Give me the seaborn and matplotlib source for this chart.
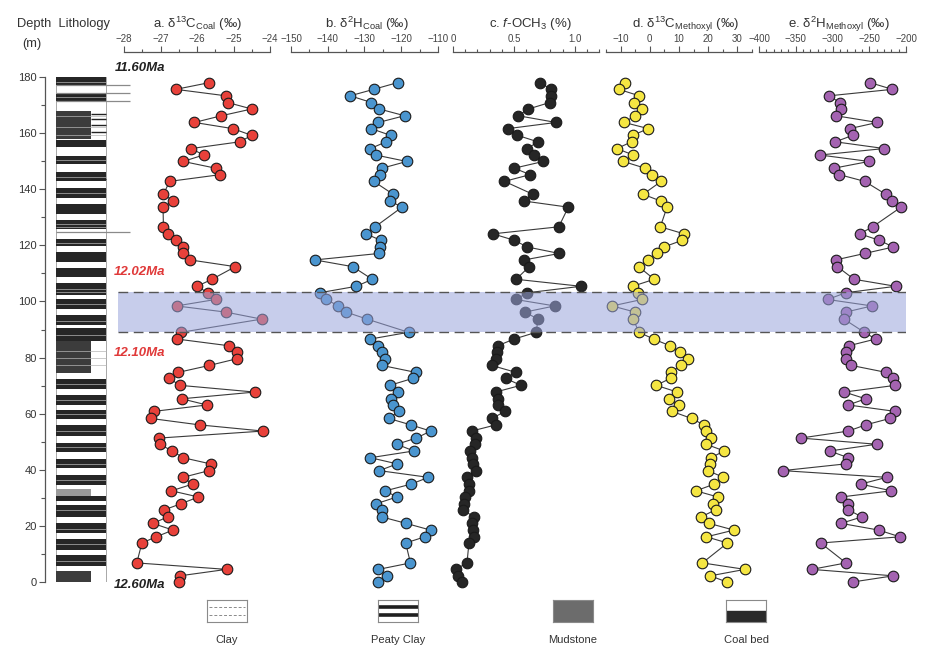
import matplotlib
matplotlib.use("Agg")
import matplotlib.pyplot as plt
import seaborn as sns
import numpy as np

# sample depths (m), shared by every proxy
depth = [178.0, 175.6, 173.3, 170.9, 168.6, 166.2, 163.8, 161.6, 159.2, 156.9,
         154.5, 152.2, 149.9, 147.5, 145.2, 142.8, 138.2, 135.8, 133.6, 126.6,
         124.1, 121.8, 119.4, 117.1, 114.8, 112.4, 107.9, 105.4, 103.1, 100.7,
         98.4, 96.2, 93.7, 89.0, 86.6, 84.2, 81.9, 79.6, 77.2, 74.7,
         72.6, 70.1, 67.7, 65.3, 63.1, 60.8, 58.3, 56.0, 53.8, 51.3,
         49.1, 46.7, 44.3, 42.1, 39.7, 37.3, 34.9, 32.5, 30.3, 27.9,
         25.7, 23.2, 20.9, 18.5, 16.1, 13.9, 6.8, 4.5, 2.2, 0.0]

d13c_coal = [-25.66, -26.58, -25.21, -25.16, -24.50, -25.33, -26.07, -25.02, -24.50, -24.83,
             -26.16, -25.82, -26.38, -25.49, -25.36, -26.75, -26.92, -26.65, -26.93, -26.92,
             -26.79, -26.58, -26.38, -26.38, -26.19, -24.95, -25.59, -26.00, -25.70, -25.49,
             -26.56, -25.21, -24.23, -26.44, -26.55, -25.12, -24.90, -24.90, -25.66, -26.52,
             -26.76, -26.47, -24.42, -26.42, -25.73, -27.19, -27.27, -25.93, -24.19, -27.04,
             -27.02, -26.68, -26.38, -25.63, -25.67, -26.39, -26.12, -26.70, -25.96, -26.44,
             -26.90, -26.80, -27.21, -26.66, -27.12, -27.51, -27.65, -25.19, -26.47, -26.48]

d2h_coal = [-121.0, -127.5, -133.9, -128.1, -126.0, -119.1, -126.2, -128.2, -122.9, -124.1,
            -128.4, -127.0, -118.5, -125.2, -125.7, -127.5, -122.2, -123.0, -119.8, -127.1,
            -129.6, -125.6, -125.9, -126.1, -143.5, -133.2, -127.9, -132.2, -142.2, -140.4,
            -137.1, -135.0, -129.3, -118.0, -128.4, -126.2, -125.2, -124.4, -125.3, -116.0,
            -116.8, -123.1, -120.8, -122.7, -122.3, -120.7, -123.4, -117.4, -112.0, -115.9,
            -121.2, -116.6, -128.4, -121.1, -126.0, -112.6, -117.3, -124.3, -121.2, -126.8,
            -125.2, -125.3, -118.7, -112.0, -113.6, -118.8, -117.5, -126.2, -123.9, -126.2]

f_och3 = [0.713, 0.809, 0.809, 0.795, 0.620, 0.535, 0.847, 0.451, 0.530, 0.697,
          0.612, 0.667, 0.743, 0.503, 0.634, 0.423, 0.656, 0.582, 0.948, 0.869,
          0.328, 0.503, 0.612, 0.874, 0.585, 0.626, 0.519, 1.052, 0.612, 0.514,
          0.836, 0.590, 0.699, 0.683, 0.503, 0.366, 0.361, 0.352, 0.317, 0.519,
          0.432, 0.557, 0.350, 0.372, 0.372, 0.426, 0.322, 0.352, 0.153, 0.186,
          0.180, 0.142, 0.153, 0.161, 0.186, 0.115, 0.128, 0.131, 0.101, 0.093,
          0.079, 0.175, 0.153, 0.167, 0.169, 0.131, 0.115, 0.022, 0.044, 0.071]

d13c_meth = [-8.4, -10.6, -3.6, -5.5, -2.7, -5.1, -8.8, -0.5, -5.9, -6.2,
             -11.3, -5.7, -9.1, -1.6, 0.6, 3.9, -2.3, 3.7, 5.9, 3.6,
             11.7, 11.1, 4.8, 2.4, -0.5, -3.8, 1.5, -5.9, -4.2, -2.7,
             -12.9, -5.0, -5.7, -3.7, 1.3, 6.9, 10.5, 13.2, 10.6, 7.2,
             7.1, 2.2, 9.4, 6.6, 9.9, 7.6, 14.3, 18.5, 19.4, 21.0,
             19.3, 25.5, 20.9, 20.6, 19.9, 25.2, 22.1, 15.8, 23.3, 21.5,
             22.5, 17.5, 20.3, 28.8, 19.4, 26.6, 18.0, 32.6, 20.7, 26.4]

d2h_meth = [-249.0, -218.6, -304.3, -290.3, -288.0, -295.7, -239.0, -276.6, -272.6, -296.1,
            -229.5, -317.0, -250.3, -298.0, -290.7, -256.2, -227.6, -219.0, -206.8, -245.4,
            -263.0, -236.3, -217.3, -256.2, -295.7, -293.4, -270.7, -214.0, -282.1, -306.6,
            -246.3, -282.1, -284.4, -256.7, -241.3, -278.0, -282.1, -282.1, -274.4, -226.8,
            -218.1, -214.5, -283.9, -254.9, -278.5, -214.5, -221.8, -254.9, -278.5, -343.3,
            -239.9, -303.9, -278.5, -282.1, -367.8, -226.3, -261.7, -220.0, -288.4, -278.5,
            -278.5, -259.9, -288.4, -237.1, -208.2, -316.1, -281.6, -328.3, -217.3, -272.6]

# lithology beds: top, base (m) and kind
bed_top = [180.0, 174.0, 167.8, 157.4, 151.9, 146.1, 140.4, 134.6, 128.9, 122.3,
           117.6, 111.9, 106.7, 101.0, 95.0, 90.5, 85.8, 72.5, 66.8, 61.4,
           56.1, 49.5, 43.9, 38.0, 33.3, 30.5, 27.6, 21.0, 15.4, 9.7, 3.8]
bed_base = [177.0, 171.6, 158.0, 155.0, 149.1, 142.8, 137.0, 131.3, 125.9, 119.7,
            114.0, 108.7, 102.4, 97.4, 91.5, 85.8, 74.5, 68.8, 63.0, 58.2,
            51.9, 46.3, 40.6, 34.5, 30.5, 28.8, 23.2, 17.5, 11.5, 5.6, 0.0]
bed_kind = ["coal", "coal", "mud", "coal", "coal", "coal", "coal", "coal", "coal", "coal",
            "coal", "coal", "coal", "coal", "coal", "coal", "mud", "coal", "coal", "coal",
            "coal", "coal", "coal", "coal", "grey", "coal", "coal", "coal", "coal", "coal", "mud"]
partings = [178.3, 172.8, 166.0, 162.0, 159.5, 150.5, 144.5, 138.8, 127.5, 126.5,
            121.0, 104.5, 103.3, 99.0, 93.2, 88.0, 82.5, 80.0, 77.5, 70.5, 65.0,
            60.0, 54.0, 48.0, 42.0, 36.2, 25.5, 19.0, 13.5, 7.5]
long_lines = [177.0, 174.4, 171.3, 124.9]
streaks = [166.9, 165.1, 163.0, 160.4, 143.5]

band = (89.1, 103.3)
ages = ["11.60Ma", "12.02Ma", "12.10Ma", "12.60Ma"]
age_depth = [183.2, 110.5, 81.6, -1.1]
age_color = ["#222222", "#e03a3a", "#e03a3a", "#222222"]

legend_names = ["Clay", "Peaty Clay", "Mudstone", "Coal bed"]

sns.set_theme(style="white")
plt.rcParams["font.family"] = ["Liberation Sans", "DejaVu Sans"]
plt.rcParams["mathtext.fontset"] = "custom"
plt.rcParams["mathtext.rm"] = "Liberation Sans"
plt.rcParams["mathtext.it"] = "Liberation Sans:italic"
plt.rcParams["mathtext.bf"] = "Liberation Sans:bold"

W, H = 931, 661
fig = plt.figure(figsize=(W / 100, H / 100), dpi=100)
Y0, Y1 = 77, 582  # pixel rows of 180 m and 0 m


def px_axes(x0, x1):
    return fig.add_axes([x0 / W, 1 - Y1 / H, (x1 - x0) / W, (Y1 - Y0) / H])


txt = "#333333"

# ---- lithology column + depth axis
lax = px_axes(45, 140)
lax.set_ylim(0, 180)
lax.set_xlim(-0.22, 1.68)
lax.patch.set_visible(False)
for s in ["top", "right", "bottom"]:
    lax.spines[s].set_visible(False)
lax.spines["left"].set_color("#555555")
lax.spines["left"].set_linewidth(0.9)
lax.set_xticks([])
lax.set_yticks(np.arange(0, 181, 20))
lax.set_yticks(np.arange(10, 180, 20), minor=True)
lax.tick_params(axis="y", which="major", direction="out", length=4, width=0.8,
                color="#555555", labelsize=8, labelcolor=txt, pad=2, left=True)
lax.tick_params(axis="y", which="minor", direction="out", length=3, width=0.8,
                color="#555555", left=True)
lax.barh(90, 1.0, height=180, left=0, color="white", edgecolor="#9a9a9a", linewidth=0.6)
kind_col = {"coal": "#262626", "mud": "#3c3c3c", "grey": "#9b9b9b"}
kind_w = {"coal": 1.0, "mud": 0.7, "grey": 0.7}
for t, b, k in zip(bed_top, bed_base, bed_kind):
    lax.barh((t + b) / 2, kind_w[k], height=t - b, left=0, color=kind_col[k], linewidth=0)
lax.hlines(partings, 0, 1.0, color="#b5b5b5", linewidth=0.5)
lax.hlines(long_lines, 0, 1.48, color="#8a8a8a", linewidth=0.9)
lax.hlines(streaks, 0.7, 1.0, color="#222222", linewidth=1.0)

# ---- proxy panels
panels = [
    (124, 270, d13c_coal, "#e8413a", (-28, -24), np.arange(-28, -23.9, 1), np.arange(-27.5, -24, 1),
     ["\u221228", "\u221227", "\u221226", "\u221225", "\u221224"],
     "a. δ$^{13}$C$_{\\rm Coal}$ (‰)", 197),
    (291, 438, d2h_coal, "#4a95cf", (-150, -110), np.arange(-150, -109, 10), np.arange(-145, -110, 10),
     ["\u2212150", "\u2212140", "\u2212130", "\u2212120", "\u2212110"],
     "b. δ$^{2}$H$_{\\rm Coal}$ (‰)", 367),
    (453, 599, f_och3, "#262626", (0, 1.2), [0, 0.5, 1.0], np.arange(0.1, 1.21, 0.1),
     ["0", "0.5", "1.0"],
     "c. $\\mathit{f}$-OCH$_3$ (%)", 530),
    (606, 752, d13c_meth, "#f5e642", (-15, 35), [-10, 0, 10, 20, 30], [-15, -5, 5, 15, 25, 35],
     ["\u221210", "0", "10", "20", "30"],
     "d. δ$^{13}$C$_{\\rm Methoxyl}$ (‰)", 685),
    (759, 906, d2h_meth, "#a463b1", (-400, -200), np.arange(-400, -199, 50), np.arange(-390, -200, 10),
     ["\u2212400", "\u2212350", "\u2212300", "\u2212250", "\u2212200"],
     "e. δ$^{2}$H$_{\\rm Methoxyl}$ (‰)", 839),
]

for x0, x1, vals, col, lim, major, minor, labels, title, tx in panels:
    ax = px_axes(x0, x1)
    ax.patch.set_visible(False)
    sns.lineplot(x=vals, y=depth, sort=False, estimator=None, color="#3a3a3a",
                 linewidth=0.8, ax=ax, zorder=2)
    sns.scatterplot(x=vals, y=depth, color=col, s=58, edgecolor="#1a1a1a",
                    linewidth=0.8, ax=ax, zorder=3, clip_on=False)
    ax.set_xlim(*lim)
    ax.set_ylim(0, 180)
    for s in ["bottom", "left", "right"]:
        ax.spines[s].set_visible(False)
    ax.spines["top"].set_position(("outward", 18))
    ax.spines["top"].set_color("#555555")
    ax.spines["top"].set_linewidth(0.9)
    ax.set_yticks([])
    ax.set_xlabel("")
    ax.xaxis.set_ticks_position("top")
    ax.set_xticks(major)
    ax.set_xticks(minor, minor=True)
    ax.set_xticklabels(labels)
    ax.tick_params(axis="x", which="major", direction="out", length=4.5, width=0.8,
                   color="#555555", labelsize=7, labelcolor="#444444", pad=1.5)
    ax.tick_params(axis="x", which="minor", direction="out", length=2, width=0.8,
                   color="#555555")
    fig.text(tx / W, 1 - 24 / H, title, ha="center", va="center", fontsize=9.5, color=txt)

# ---- shaded interval across all panels
bax = px_axes(118, 906)
bax.set_zorder(10)
bax.patch.set_visible(False)
bax.set_axis_off()
bax.set_xlim(0, 1)
bax.set_ylim(0, 180)
bax.axhspan(band[0], band[1], color="#9aa4dc", alpha=0.55, linewidth=0)
for yb in band:
    bax.axhline(yb, color="#555555", linewidth=1.0, dashes=(7, 4))

# ---- headers and ages
fig.text(17 / W, 1 - 24 / H, "Depth  Lithology", ha="left", va="center", fontsize=9.3, color=txt)
fig.text(32 / W, 1 - 44 / H, "(m)", ha="center", va="center", fontsize=9.3, color=txt)
for a, dpt, c in zip(ages, age_depth, age_color):
    ypx = Y1 - dpt / 180 * (Y1 - Y0)
    fig.text(140 / W, 1 - ypx / H, a, ha="center", va="center", fontsize=9.5,
             fontweight="bold", fontstyle="italic", color=c)

# ---- legend boxes
box_x = [207, 378, 553, 726]
for name, bx in zip(legend_names, box_x):
    lg = fig.add_axes([bx / W, 1 - 622 / H, 40 / W, 22 / H])
    lg.set_xlim(0, 1)
    lg.set_ylim(0, 1)
    lg.set_xticks([])
    lg.set_yticks([])
    for s in lg.spines.values():
        s.set_color("#8a8a8a")
        s.set_linewidth(0.8)
    if name == "Clay":
        lg.hlines([1 / 3, 2 / 3], 0.05, 0.95, color="#8a8a8a", linewidth=0.7, linestyles=(0, (3, 2)))
    elif name == "Peaty Clay":
        lg.hlines([0.3, 0.68], 0, 1, color="#1f1f1f", linewidth=2.6)
    elif name == "Mudstone":
        lg.set_facecolor("#6c6c6c")
    else:
        lg.axhspan(0, 0.5, color="#2a2a2a")
    fig.text((bx + 20) / W, 1 - 640 / H, name, ha="center", va="center", fontsize=8, color=txt)

fig.savefig("out.png", dpi=100)
